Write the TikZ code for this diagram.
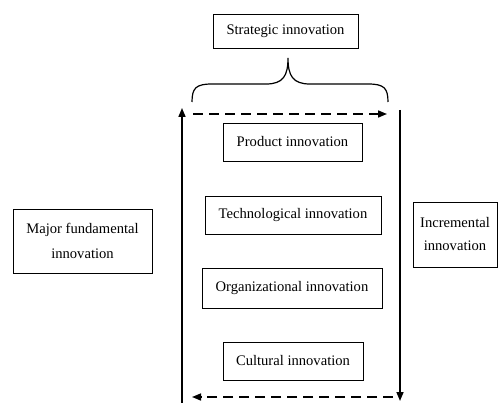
\documentclass[tikz,border=0pt]{standalone}
\usepackage{fontspec}
\setmainfont{Liberation Serif}
\usetikzlibrary{arrows.meta}
\tikzset{
  box/.style={rectangle, draw, line width=0.8pt, inner sep=0pt, align=center,
    font=\fontsize{14.6}{25}\selectfont},
  flow/.style={line width=1.6pt, -{Triangle[length=9pt,width=7pt]}},
  dashflow/.style={flow, dash pattern=on 10pt off 6pt}
}
\begin{document}
\begin{tikzpicture}[x=1pt,y=-1pt]
    \useasboundingbox (0,0) rectangle (498,403);
    \node (strat) at (285.5,31) [box, minimum width=145pt, minimum height=34pt]
    {Strategic innovation}; \node (prod) at (292.5,142) [box, minimum
    width=139pt, minimum height=38pt] {Product innovation}; \node (tech) at
    (293,215) [box, minimum width=176pt, minimum height=38pt] {Technological
    innovation}; \node (org) at (292,288) [box, minimum width=180pt, minimum
    height=40pt] {Organizational innovation}; \node (cult) at (293,361) [box,
    minimum width=140pt, minimum height=38pt] {Cultural innovation};
    \node (major) at (82.5,241) [box, minimum width=139pt, minimum height=64pt]
    {Major fundamental\\innovation}; \node (incr) at (455,234.5) [box, minimum
    width=84pt, minimum height=65pt, font=\fontsize{14.6}{23}\selectfont]
    {Incremental\\innovation};
    \coordinate (lb) at (182,403); \coordinate (lt) at (182,108);
    \coordinate (rt) at (400,110); \coordinate (rb) at (400,401);
    \coordinate (tl) at (193,114); \coordinate (tr) at (387,114);
    \coordinate (br) at (393,397); \coordinate (bl) at (192,397);
    \draw[flow] (lb) -- (lt); \draw[flow] (rt) -- (rb);
    \draw[dashflow] (tl) -- (tr); \draw[dashflow] (br) -- (bl);
    \draw[line width=1.2pt] (192,102) .. controls (192,88) and (196,84) ..
    (212,84) -- (266,84) .. controls (283,84) and (288,76) .. (288,58)
    .. controls (288,76) and (293,84) .. (310,84) -- (368,84) .. controls
    (384,84) and (388,88) .. (388,102);
  \end{tikzpicture}
\end{document}
